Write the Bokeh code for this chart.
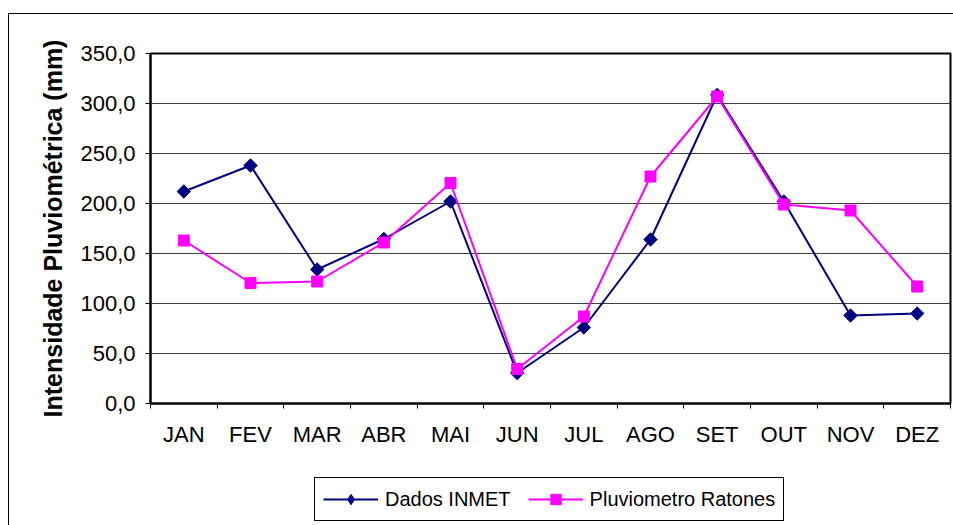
import numpy as np
from bokeh.plotting import figure
from bokeh.layouts import column
from bokeh.models import (Range1d, FixedTicker, CustomJSTickFormatter, Legend,
                          LegendItem)
from bokeh.embed import file_html
from bokeh.resources import INLINE

months = ["JAN", "FEV", "MAR", "ABR", "MAI", "JUN", "JUL", "AGO", "SET", "OUT", "NOV", "DEZ"]
inmet = [212, 238, 134, 164.5, 202, 30.5, 76, 164, 308.5, 202, 88, 90]
ratones = [163, 120.5, 122, 161, 220.5, 34.5, 87, 227, 307, 199, 193, 117]
y_ticks = [0, 50, 100, 150, 200, 250, 300, 350]
series_names = ["Dados INMET", "Pluviometro Ratones"]
y_title = "Intensidade Pluviométrica (mm)"

FONT = "Liberation Sans"
C_INMET = "#000080"
C_RAT = "#FF00FF"

xs = [i + 0.5 for i in range(len(months))]
bounds = list(range(len(months) + 1))

# ---------------- main chart ----------------
p = figure(width=944, height=446, output_backend="svg", toolbar_location=None,
           x_range=Range1d(0, len(months)), y_range=Range1d(y_ticks[0], y_ticks[-1]),
           min_border_left=141, min_border_right=3, min_border_top=39,
           min_border_bottom=57)
p.background_fill_color = "white"
p.border_fill_color = "white"
p.outline_line_color = "black"
p.outline_line_width = 2

xa = p.xaxis[0]
xa.ticker = FixedTicker(ticks=xs, minor_ticks=bounds)
xa.major_label_overrides = {x: m for x, m in zip(xs, months)}
xa.major_tick_in = 0
xa.major_tick_out = 0
xa.minor_tick_in = 0
xa.minor_tick_out = 5
xa.minor_tick_line_color = "black"
xa.minor_tick_line_width = 1
xa.axis_line_color = "black"
xa.axis_line_width = 2
xa.major_label_text_font = FONT
xa.major_label_text_font_size = "22px"
xa.major_label_text_color = "black"
xa.major_label_standoff = 13

ya = p.yaxis[0]
ya.ticker = FixedTicker(ticks=y_ticks, minor_ticks=[])
ya.formatter = CustomJSTickFormatter(code="return tick.toFixed(1).replace('.', ',');")
ya.major_tick_in = 0
ya.major_tick_out = 5
ya.major_tick_line_color = "black"
ya.axis_line_color = "black"
ya.axis_line_width = 2
ya.major_label_text_font = FONT
ya.major_label_text_font_size = "22px"
ya.major_label_text_color = "black"
ya.major_label_standoff = 10
ya.axis_label = y_title
ya.axis_label_text_font = FONT
ya.axis_label_text_font_style = "bold"
ya.axis_label_text_font_size = "25px"
ya.axis_label_text_color = "black"
ya.axis_label_standoff = 10

p.xgrid.visible = False
p.ygrid.ticker = FixedTicker(ticks=y_ticks)
p.ygrid.grid_line_color = "#404040"
p.ygrid.grid_line_width = 1

p.line(xs, inmet, line_color=C_INMET, line_width=2)
p.scatter(xs, inmet, marker="square", angle=np.pi / 4, size=9.5,
          fill_color=C_INMET, line_color=C_INMET)
p.line(xs, ratones, line_color=C_RAT, line_width=2)
p.scatter(xs, ratones, marker="square", size=11,
          fill_color=C_RAT, line_color=C_RAT)

# ---------------- legend strip ----------------
q = figure(width=944, height=65, output_backend="svg", toolbar_location=None,
           x_axis_type=None, y_axis_type=None,
           x_range=Range1d(0, 1), y_range=Range1d(0, 1),
           min_border_left=0, min_border_right=0, min_border_top=0,
           min_border_bottom=0)
q.outline_line_color = None
q.background_fill_color = "white"
q.border_fill_color = "white"
q.xgrid.visible = False
q.ygrid.visible = False

ql1 = q.line(xs, inmet, line_color=C_INMET, line_width=2, visible=False)
qs1 = q.scatter(xs, inmet, marker="diamond", fill_color=C_INMET,
                line_color=C_INMET, visible=False)
ql2 = q.line(xs, ratones, line_color=C_RAT, line_width=2, visible=False)
qs2 = q.scatter(xs, ratones, marker="square", fill_color=C_RAT,
                line_color=C_RAT, visible=False)

legend = Legend(items=[LegendItem(label=series_names[0], renderers=[ql1, qs1]),
                       LegendItem(label=series_names[1], renderers=[ql2, qs2])],
                orientation="horizontal", location=(164, 4))
legend.click_policy = "none"
legend.glyph_width = 55
legend.glyph_height = 26
legend.label_standoff = 7
legend.spacing = 17
legend.padding = 8
legend.margin = 0
legend.label_text_font = FONT
legend.label_text_font_size = "20px"
legend.label_text_color = "black"
legend.border_line_color = "black"
legend.border_line_width = 1
legend.border_line_alpha = 1
legend.background_fill_color = "white"
legend.background_fill_alpha = 1
q.add_layout(legend)

layout = column(p, q, spacing=0)
layout.styles = {"margin-left": "8px", "margin-top": "13px",
                 "border-left": "1px solid black", "border-top": "1px solid black"}

open("out.html", "w").write(file_html(layout, INLINE))
